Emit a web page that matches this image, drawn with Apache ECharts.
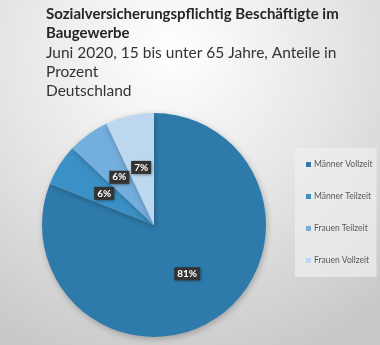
<!DOCTYPE html>
<html><head><meta charset="utf-8">
<script src="https://cdn.jsdelivr.net/npm/echarts@6/dist/echarts.min.js"></script>
<style>html,body{margin:0;padding:0;}#c{width:380px;height:345px;}</style>
</head><body><div id="c"></div>
<script>
const categories = ['Männer Vollzeit', 'Männer Teilzeit', 'Frauen Teilzeit', 'Frauen Vollzeit'];
const shares = [81, 6, 6, 7];
const colors = ['#2e7bab', '#3b91c6', '#74aedd', '#bdd7ee'];
const titleText = 'Sozialversicherungspflichtig Beschäftigte im\nBaugewerbe';
const subText = 'Juni 2020, 15 bis unter 65 Jahre, Anteile in\nProzent\nDeutschland';

const chart = echarts.init(document.getElementById('c'), null, {renderer: 'canvas'});
chart.setOption({
  backgroundColor: {
    type: 'radial', x: 0.45, y: 0.15, r: 0.95,
    colorStops: [{offset: 0, color: '#ffffff'}, {offset: 0.5, color: '#e6e6e6'}, {offset: 1, color: '#c8c8c8'}]
  },
  animation: false,
  title: {
    text: titleText,
    subtext: subText,
    left: 41, top: 0,
    itemGap: 0,
    textStyle: {fontFamily: 'Lato', fontWeight: 'bold', fontSize: 15, color: '#262626', lineHeight: 19},
    subtextStyle: {fontFamily: 'Lato', fontSize: 15.5, color: '#333333', lineHeight: 19}
  },
  legend: {
    orient: 'vertical',
    left: 295, top: 148,
    width: 83, height: 125,
    padding: [12, 4, 12, 11],
    itemWidth: 5, itemHeight: 5,
    itemGap: 23,
    icon: 'rect',
    backgroundColor: 'rgba(240,240,240,0.7)',
    textStyle: {fontFamily: 'Lato', fontSize: 8.5, color: '#595959', padding: [0, 0, 0, -2]},
    data: categories
  },
  series: [{
    type: 'pie',
    center: [154, 225],
    radius: 112,
    startAngle: 90,
    clockwise: true,
    itemStyle: {shadowBlur: 6, shadowColor: 'rgba(0,0,0,0.25)', shadowOffsetX: 1, shadowOffsetY: 2},
    label: {
      position: 'inside',
      formatter: '{c}%',
      backgroundColor: '#333333',
      color: '#ffffff',
      fontFamily: 'Lato',
      fontWeight: 'bold',
      fontSize: 10,
      padding: [2, 3, 1, 3],
      shadowBlur: 3, shadowColor: 'rgba(0,0,0,0.5)', shadowOffsetX: 1, shadowOffsetY: 1
    },
    labelLine: {show: false},
    emphasis: {disabled: true},
    data: categories.map((n, i) => ({name: n, value: shares[i], itemStyle: {color: colors[i]}}))
  }]
});
</script>
</body></html>
